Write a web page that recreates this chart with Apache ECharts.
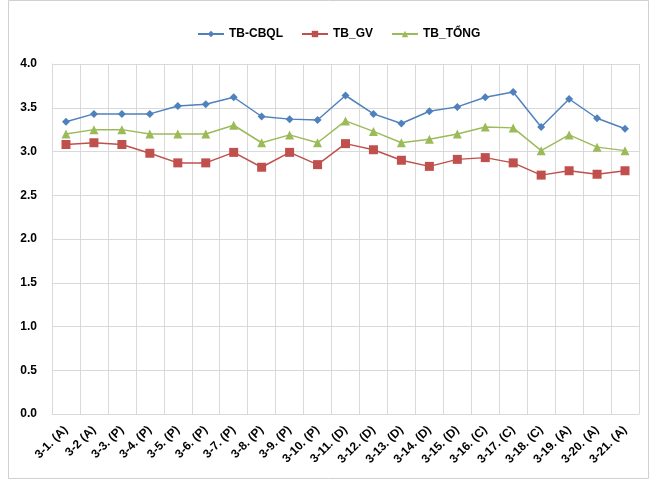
<!DOCTYPE html>
<html><head><meta charset="utf-8">
<script src="https://cdn.jsdelivr.net/npm/echarts@6/dist/echarts.min.js"></script>
<style>html,body{margin:0;padding:0;background:#fff}#c{width:651px;height:479px}</style>
</head><body><div id="c"></div>
<script>
const categories = ["3-1. (A)","3-2 (A)","3-3. (P)","3-4. (P)","3-5. (P)","3-6. (P)","3-7. (P)","3-8. (P)","3-9. (P)","3-10. (P)","3-11. (D)","3-12. (D)","3-13. (D)","3-14. (D)","3-15. (D)","3-16. (C)","3-17. (C)","3-18. (C)","3-19. (A)","3-20. (A)","3-21. (A)"];
const tbCBQL = [3.34,3.43,3.43,3.43,3.52,3.54,3.62,3.40,3.37,3.36,3.64,3.43,3.32,3.46,3.51,3.62,3.68,3.28,3.60,3.38,3.26];
const tbGV   = [3.08,3.10,3.08,2.98,2.87,2.87,2.99,2.82,2.99,2.85,3.09,3.02,2.90,2.83,2.91,2.93,2.87,2.73,2.78,2.74,2.78];
const tbTong = [3.20,3.25,3.25,3.20,3.20,3.20,3.30,3.10,3.19,3.10,3.35,3.23,3.10,3.14,3.20,3.28,3.27,3.01,3.19,3.05,3.01];
const yTicks = ["0.0","0.5","1.0","1.5","2.0","2.5","3.0","3.5","4.0"];

const chart = echarts.init(document.getElementById('c'));
const font = 'Liberation Sans, Arial, sans-serif';
chart.setOption({
  animation:false,
  graphic:[{type:'rect',shape:{x:8.5,y:0.5,width:640,height:478},style:{fill:'none',stroke:'#d0d0d0',lineWidth:1},silent:true}],
  legend:{top:23,left:192,itemWidth:26,itemHeight:8,itemGap:18,
    textStyle:{fontFamily:font,fontWeight:'bold',fontSize:12,color:'#000'},
    data:['TB-CBQL','TB_GV','TB_TỔNG']},
  grid:{left:52,right:12,top:64,bottom:65,containLabel:false},
  xAxis:{type:'category',data:categories,boundaryGap:true,
    axisLine:{lineStyle:{color:'#d9d9d9'}},axisTick:{show:false},
    splitLine:{show:true,lineStyle:{color:'#d9d9d9'}},
    axisLabel:{rotate:45,interval:0,margin:14,fontFamily:font,fontWeight:'bold',fontSize:12,color:'#000'}},
  yAxis:{type:'value',min:0,max:4,interval:0.5,
    axisLine:{show:true,lineStyle:{color:'#d9d9d9'}},axisTick:{show:false},
    splitLine:{lineStyle:{color:'#d9d9d9'}},
    axisLabel:{margin:15,fontFamily:font,fontWeight:'bold',fontSize:12,color:'#000',
      formatter:(v)=>yTicks[Math.round(v*2)]}},
  series:[
    {name:'TB-CBQL',type:'line',data:tbCBQL,symbol:'diamond',symbolSize:8,
      lineStyle:{color:'#4F81BD',width:1.5},itemStyle:{color:'#4F81BD'}},
    {name:'TB_GV',type:'line',data:tbGV,symbol:'rect',symbolSize:9,
      lineStyle:{color:'#C0504D',width:1.5},itemStyle:{color:'#C0504D'}},
    {name:'TB_TỔNG',type:'line',data:tbTong,symbol:'triangle',symbolSize:9,
      lineStyle:{color:'#9BBB59',width:1.5},itemStyle:{color:'#9BBB59'}}
  ]
});
</script></body></html>
